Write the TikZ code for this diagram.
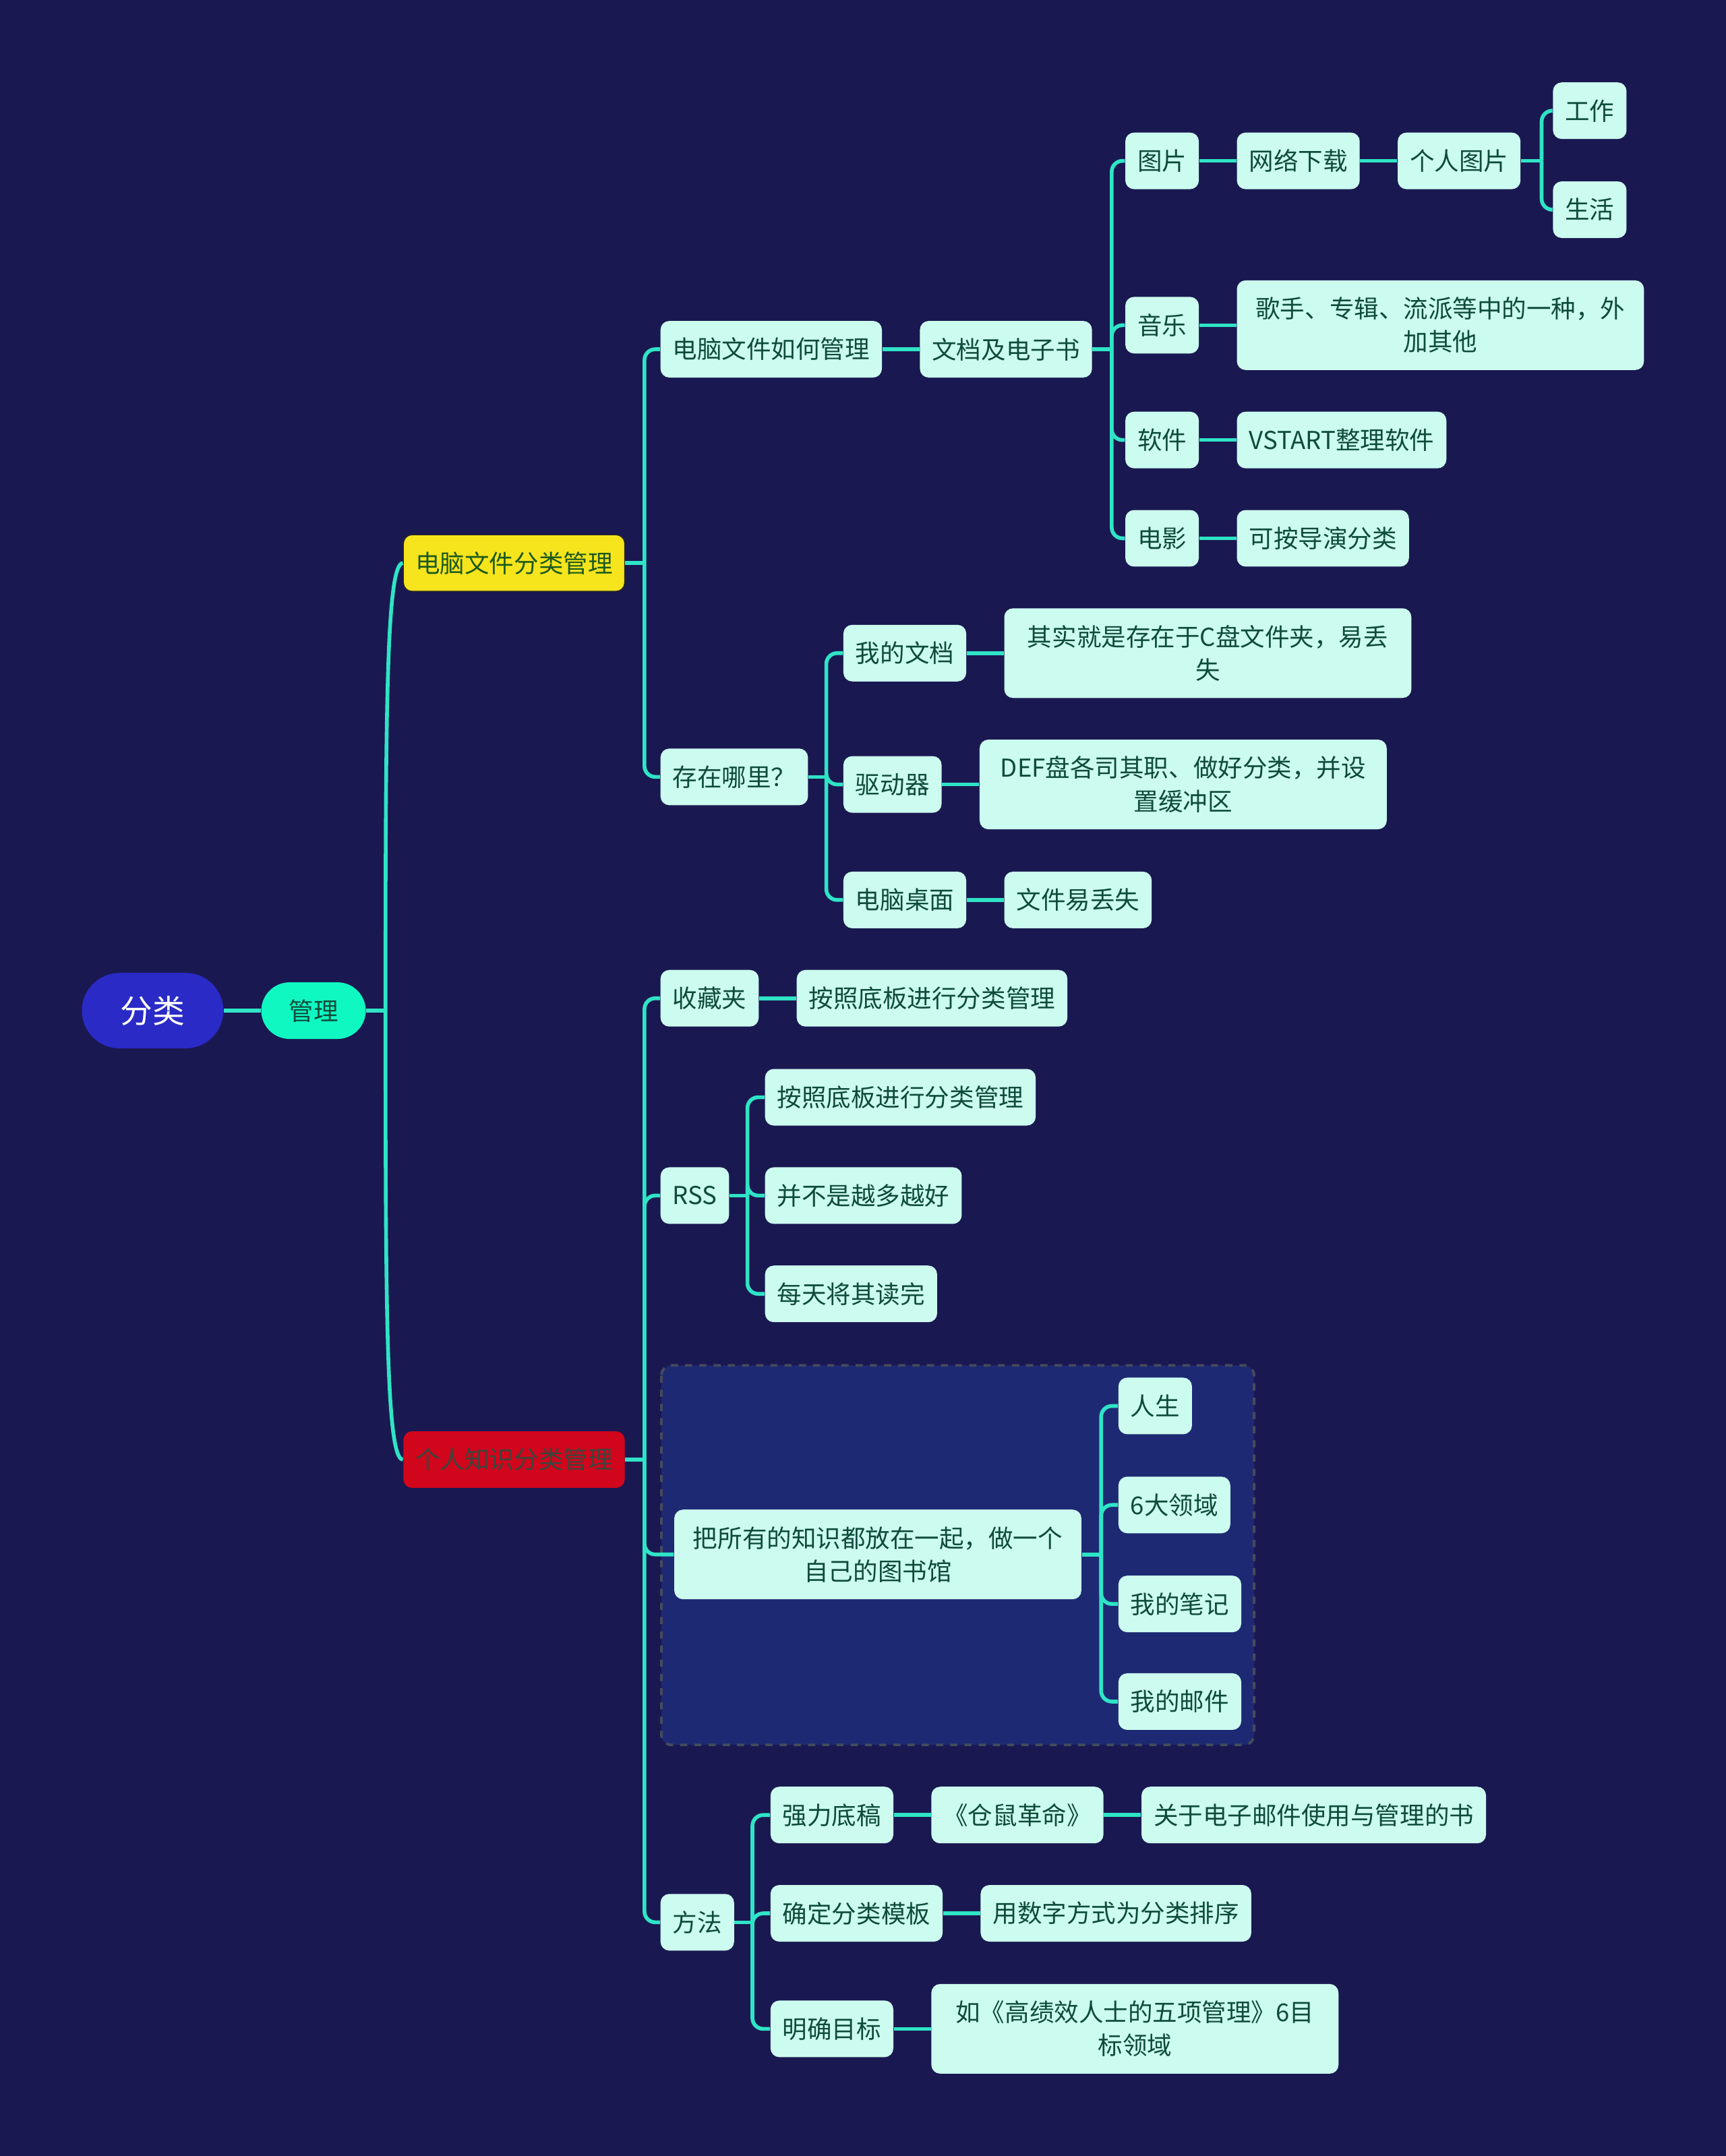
\documentclass[tikz,border=0pt]{standalone}
\usepackage{fontspec}
\newfontfamily\cjk{Noto Sans CJK SC}
\usetikzlibrary{positioning,calc}
\definecolor{mapbg}{HTML}{1A1851}
\definecolor{mapline}{HTML}{2FE4C6}
\definecolor{mapfill}{HTML}{CCFCEF}
\definecolor{maptext}{HTML}{0E4B3A}
\definecolor{rootblue}{HTML}{2A2AC6}
\definecolor{subgreen}{HTML}{10F8C2}
\definecolor{topyellow}{HTML}{F6E41D}
\definecolor{topred}{HTML}{D1051C}
\definecolor{yellowtext}{HTML}{1C5A1C}
\definecolor{redtext}{HTML}{3B463C}
\definecolor{zonefill}{HTML}{1D2A73}
\definecolor{zoneedge}{HTML}{464B5C}
\tikzset{
  leaf/.style       = {fill=mapfill, rounded corners=0.13cm, minimum height=0.84cm,
                       inner xsep=0.18cm, inner ysep=0.1cm, text=maptext, anchor=west},
  wide/.style       = {leaf, text width=5.5cm, minimum width=6.04cm, minimum height=1.33cm,
                       align=center},
  topic/.style      = {leaf, minimum width=3.26cm},
  root/.style       = {fill=rootblue, text=white, rounded corners=0.56cm, minimum width=2.1cm,
                       minimum height=1.12cm, font=\cjk\fontsize{13.6pt}{16pt}\selectfont},
  sub/.style        = {fill=subgreen, text=maptext, rounded corners=0.42cm, minimum width=1.55cm,
                       minimum height=0.84cm},
  link/.style       = {draw=mapline, line width=1.6pt},
  branch/.style     = {link, rounded corners=0.16cm},
  node distance     = 5.5mm,
  every node/.style = {font=\cjk\fontsize{10.4pt}{14pt}\selectfont},
}

\begin{document}
\begin{tikzpicture}[x=0.0204cm, y=-0.0204cm]
  \fill[mapbg] (0,0) rectangle (1255,1568);
  % boundary round the library branch
  \draw[zoneedge, fill=zonefill, dashed, line width=1.1pt, rounded corners=0.15cm]
    (481,993) rectangle (912,1269);

  \node[root] (fl) at (111,735) {分类};
  \node[sub] (gl) at (228,735) {管理};
  \node[topic, fill=topyellow, draw=black!85, text=yellowtext] (dn) at (293,409.5) {电脑文件分类管理};
  \node[topic, fill=topred, text=redtext] (gr) at (293,1061.5) {个人知识分类管理};

  % computer files
  \node[leaf] (a1) at (480,254) {电脑文件如何管理};
  \node[leaf] (a2) at (480,565) {存在哪里？};
  \node[leaf, right=of a1] (b1) {文档及电子书};
  \node[leaf] (c1) at (818,117) {图片};
  \node[leaf] (c2) at (818,236.5) {音乐};
  \node[leaf] (c3) at (818,320) {软件};
  \node[leaf] (c4) at (818,391.5) {电影};
  \node[leaf, right=of c1] (e1) {网络下载};
  \node[leaf, right=of e1] (e2) {个人图片};
  \node[leaf] (f1) at (1129,80.5) {工作};
  \node[leaf] (f2) at (1129,152.5) {生活};
  \node[wide, right=of c2] (e3) {歌手、专辑、流派等中的一种，外\\加其他};
  \node[leaf, right=of c3] (e4) {VSTART整理软件};
  \node[leaf, right=of c4] (e5) {可按导演分类};
  \node[leaf] (g1) at (613,475) {我的文档};
  \node[leaf] (g2) at (613,570.5) {驱动器};
  \node[leaf] (g3) at (613,654.5) {电脑桌面};
  \node[wide, right=of g1] (h1) {其实就是存在于C盘文件夹，易丢\\失};
  \node[wide, right=of g2] (h2) {DEF盘各司其职、做好分类，并设\\置缓冲区};
  \node[leaf, right=of g3] (h3) {文件易丢失};

  % personal knowledge
  \node[leaf] (k1) at (480,726) {收藏夹};
  \node[leaf] (k2) at (480,869.5) {RSS};
  \node[wide] (k3) at (490,1130.5) {把所有的知识都放在一起，做一个\\自己的图书馆};
  \node[leaf] (k4) at (480,1398) {方法};
  \node[leaf, right=of k1] (m1) {按照底板进行分类管理};
  \node[leaf] (n1) at (556,798) {按照底板进行分类管理};
  \node[leaf] (n2) at (556,869.5) {并不是越多越好};
  \node[leaf] (n3) at (556,941) {每天将其读完};
  \node[leaf] (p1) at (813,1022.5) {人生};
  \node[leaf] (p2) at (813,1094.5) {6大领域};
  \node[leaf] (p3) at (813,1166.5) {我的笔记};
  \node[leaf] (p4) at (813,1237.5) {我的邮件};
  \node[leaf] (q1) at (560,1320) {强力底稿};
  \node[leaf] (q2) at (560,1391.5) {确定分类模板};
  \node[leaf] (q3) at (560,1475.5) {明确目标};
  \node[leaf, right=of q1] (r1) {《仓鼠革命》};
  \node[leaf, right=of r1] (r2) {关于电子邮件使用与管理的书};
  \node[leaf, right=of q2] (s1) {用数字方式为分类排序};
  \node[wide, right=of q3] (s2) {如《高绩效人士的五项管理》6目\\标领域};

  % connectors
  \draw[link] (fl) -- (gl);
  \draw[link] (gl.east) -- ++(14,0) coordinate (gb);
  \draw[link] (gb) .. controls +(0,-220) and +(-12,0) .. (dn.west);
  \draw[link] (gb) .. controls +(0,220) and +(-12,0) .. (gr.west);

  \draw[link] (dn.east) -- ++(14,0) coordinate (db);
  \foreach \kid in {a1,a2} \draw[branch] (db) |- (\kid.west);
  \draw[link] (a1) -- (b1);
  \draw[link] (b1.east) -- ++(14,0) coordinate (bb);
  \foreach \kid in {c1,c2,c3,c4} \draw[branch] (bb) |- (\kid.west);
  \draw[link] (c1) -- (e1);
  \draw[link] (e1) -- (e2);
  \draw[link] (e2.east) -- ++(15,0) coordinate (eb);
  \foreach \kid in {f1,f2} \draw[branch] (eb) |- (\kid.west);
  \draw[link] (c2) -- (e3);
  \draw[link] (c3) -- (e4);
  \draw[link] (c4) -- (e5);
  \draw[link] (a2.east) -- ++(13,0) coordinate (ab);
  \foreach \kid in {g1,g2,g3} \draw[branch] (ab) |- (\kid.west);
  \draw[link] (g1) -- (h1);
  \draw[link] (g2) -- (h2);
  \draw[link] (g3) -- (h3);

  \draw[link] (gr.east) -- ++(14,0) coordinate (rb);
  \foreach \kid in {k1,k2,k3,k4} \draw[branch] (rb) |- (\kid.west);
  \draw[link] (k1) -- (m1);
  \draw[link] (k2.east) -- ++(13,0) coordinate (sb);
  \foreach \kid in {n1,n2,n3} \draw[branch] (sb) |- (\kid.west);
  \draw[link] (k3.east) -- ++(14,0) coordinate (lb);
  \foreach \kid in {p1,p2,p3,p4} \draw[branch] (lb) |- (\kid.west);
  \draw[link] (k4.east) -- ++(13,0) coordinate (fb);
  \foreach \kid in {q1,q2,q3} \draw[branch] (fb) |- (\kid.west);
  \draw[link] (q1) -- (r1);
  \draw[link] (r1) -- (r2);
  \draw[link] (q2) -- (s1);
  \draw[link] (q3) -- (s2);
\end{tikzpicture}
\end{document}
